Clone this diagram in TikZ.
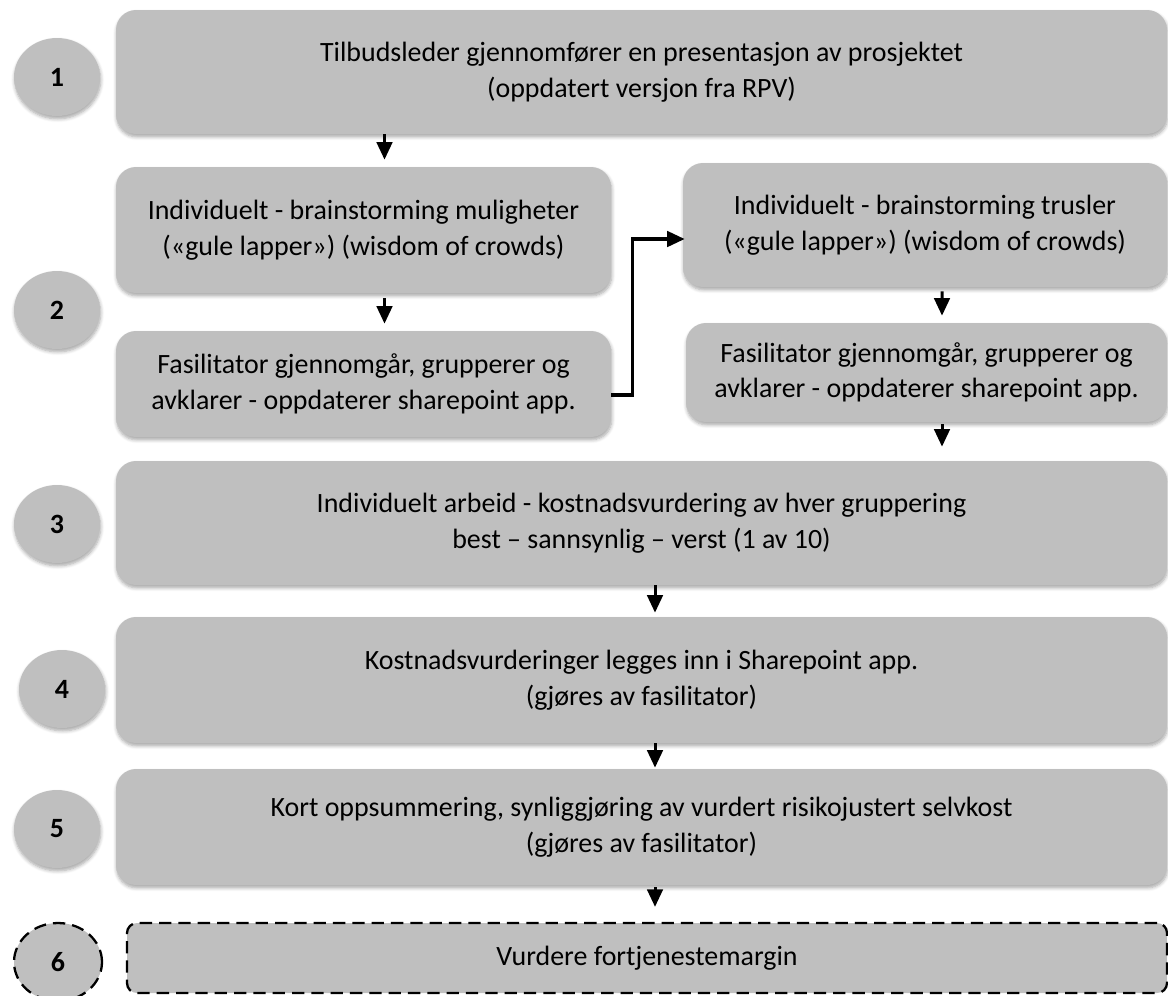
\documentclass[tikz,border=0pt]{standalone}
\usepackage{fontspec}
\setmainfont{Carlito}
\usetikzlibrary{shapes.geometric,arrows.meta,shadows.blur,calc}
\definecolor{panegray}{HTML}{BFBFBF}
\tikzset{
  pane/.style={fill=panegray, align=center, inner sep=0pt, font=\fontsize{15.9}{20.2}\selectfont},
  soft/.style={blur shadow={shadow xshift=0.4pt, shadow yshift=-1.6pt, shadow blur radius=2pt, shadow blur steps=6, shadow opacity=35}},
  box/.style={pane, soft, rounded corners=0.4cm},
  sz/.style 2 args={minimum width=#1*0.02cm, minimum height=#2*0.02cm},
  numfont/.style={font=\fontsize{15.9}{18}\selectfont\bfseries},
  numcirc/.style={ellipse, pane, soft, sz={86}{78}, numfont},
  dashed pane/.style={draw=black, line width=1.3pt, dash pattern=on 7pt off 4pt},
  arr/.style={-{Triangle[width=0.31cm,length=0.35cm]}, line width=1.7pt},
}
\begin{document}
\begin{tikzpicture}[x=0.02cm, y=-0.02cm]
\useasboundingbox (0,0) rectangle (1168,995);

\node[numcirc] (c1) at (57,77) {1};
\node[numcirc] (c2) at (57,310) {2};
\node[numcirc] (c3) at (57,524) {3};
\node[numcirc] (c4) at (62,689) {4};
\node[numcirc] (c5) at (57,829) {5};
\node[ellipse, pane, sz={88}{78}, dashed pane, numfont] (c6) at (58,962) {6};

\node[box, sz={1051}{124}] (b1) at (641.5,72) {Tilbudsleder gjennomfører en presentasjon av prosjektet\\(oppdatert versjon fra RPV)};
\node[box, sz={495}{126}] (b2a) at (363.5,230) {Individuelt - brainstorming muligheter\\(«gule lapper») (wisdom of crowds)};
\node[box, sz={495}{106}] (b2b) at (363.5,384) {Fasilitator gjennomgår, grupperer og\\avklarer - oppdaterer sharepoint app.};
\node[box, sz={484}{124}] (b2c) at (925,225) {Individuelt - brainstorming trusler\\(«gule lapper») (wisdom of crowds)};
\node[box, sz={481}{99}] (b2d) at (926.5,372.5) {Fasilitator gjennomgår, grupperer og\\avklarer - oppdaterer sharepoint app.};
\node[box, sz={1051}{124}] (b3) at (641.5,523) {Individuelt arbeid - kostnadsvurdering av hver gruppering\\best – sannsynlig – verst (1 av 10)};
\node[box, sz={1051}{126}] (b4) at (641.5,680) {Kostnadsvurderinger legges inn i Sharepoint app.\\(gjøres av fasilitator)};
\node[box, sz={1051}{116}] (b5) at (641.5,827) {Kort oppsummering, synliggjøring av vurdert risikojustert selvkost\\(gjøres av fasilitator)};
\node[pane, dashed pane, rounded corners=0.2cm, sz={1040}{70}] (b6) at (647,958) {Vurdere fortjenestemargin};

\draw[arr, shorten >=0.14cm] ($(b1.south -| b2a.north)+(21,0)$) -- ($(b2a.north)+(21,0)$);
\draw[arr, shorten <=0.1cm, shorten >=0.14cm] ($(b2a.south)+(21,0)$) -- ($(b2b.north)+(21,0)$);
\draw[arr, line width=1.8pt] ($(b2b.east)+(0,11)$) -- ++(21,0) |- ($(b2c.west)+(2,14)$);
\draw[arr, shorten <=0.08cm, shorten >=0.14cm] ($(b2c.south)+(17,0)$) -- ($(b2d.north)+(15.5,0)$);
\draw[arr, shorten <=0.04cm, shorten >=0.28cm] ($(b2d.south)+(15.5,0)$) -- ($(b3.north -| b2d.south)+(15.5,0)$);
\draw[arr, shorten >=0.08cm] ($(b3.south)+(13.5,0)$) -- ($(b4.north)+(13.5,0)$);
\draw[arr, shorten >=0.02cm] ($(b4.south)+(13.5,0)$) -- ($(b5.north)+(13.5,0)$);
\draw[arr, shorten <=0.04cm, shorten >=0.3cm] ($(b5.south)+(13.5,0)$) -- ($(b6.north -| b5.south)+(13.5,0)$);
\end{tikzpicture}
\end{document}
